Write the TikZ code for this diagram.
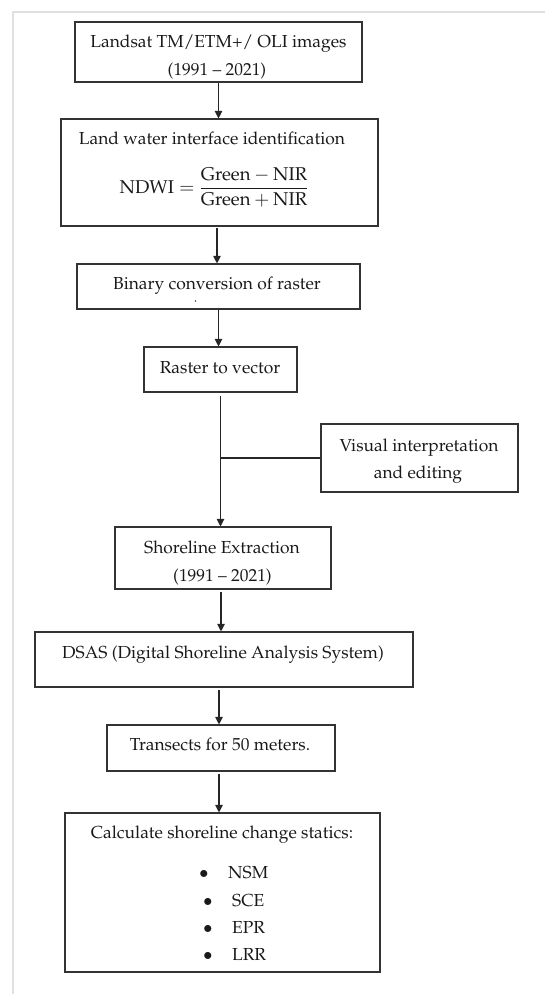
\documentclass[tikz,border=0pt]{standalone}
\usepackage[T1]{fontenc}
\usepackage{mathpazo}
\usepackage{amsmath}
\usetikzlibrary{arrows.meta}
\begin{document}
\begin{tikzpicture}[x=1pt,y=-1pt,
  box/.style={draw=black!80, line width=1.1pt, inner sep=0pt, rectangle},
  txt/.style={inner sep=0pt, anchor=base, text=black!90, font=\fontsize{17.4}{28}\selectfont},
  itm/.style={txt, anchor=base west},
  arr/.style={draw=black!85, line width=1.1pt, -{Triangle[width=7.5pt,length=7.5pt]}},
  conn/.style={draw=black!85, line width=1.1pt},
  frame/.style={draw=black!12, line width=1.5pt}]
\useasboundingbox (0,0) rectangle (545,994);
\draw[frame] (13,994) -- (13,12) -- (545,12);

% boxes
\node[box, minimum width=287pt, minimum height=60pt]  (b1) at (218.5,52) {};
\node[box, minimum width=317pt, minimum height=107pt] (b2) at (219.5,172.5) {};
\node[box, minimum width=283pt, minimum height=45pt]  (b3) at (218.5,286.5) {};
\node[box, minimum width=153pt, minimum height=45pt]  (b4) at (220.5,369.5) {};
\node[box, minimum width=197pt, minimum height=68pt]  (b5) at (419.5,458) {};
\node[box, minimum width=216pt, minimum height=62pt]  (b6) at (223,558) {};
\node[box, minimum width=378pt, minimum height=55pt]  (b7) at (224,659.5) {};
\node[box, minimum width=228pt, minimum height=46pt]  (b8) at (221,748) {};
\node[box, minimum width=315pt, minimum height=159pt] (b9) at (222.5,892.5) {};

% texts
\node[txt] (t1a) at (218.5,47.5) {Landsat TM/ETM+/ OLI images};
\node[txt] (t1b) at (217,75) {(1991 -- 2021)};
\node[txt] (t2a) at (212,144) {Land water interface identification};
\node[txt, font=\fontsize{18.5}{28}\selectfont] (t2b) at (214,193) {$\mathrm{NDWI} = \dfrac{\mathrm{Green}-\mathrm{NIR}\rule[-3pt]{0pt}{1pt}}{\mathrm{Green}+\mathrm{NIR}\rule{0pt}{15pt}}$};
\node[txt] (t3) at (217,289) {Binary conversion of raster};
\node[circle, fill=black!70, inner sep=0pt, minimum size=1.6pt] (d3) at (195.5,301) {};
\node[txt] (t4) at (220,373) {Raster to vector};
\node[txt] (t5a) at (419,451) {Visual interpretation};
\node[txt] (t5b) at (418,478) {and editing};
\node[txt] (t6a) at (222,553) {Shoreline Extraction};
\node[txt] (t6b) at (222.5,581) {(1991 -- 2021)};
\node[txt] (t7) at (223,658) {DSAS (Digital Shoreline Analysis System)};
\node[txt] (t8) at (220,750) {Transects for 50 meters.};
\node[txt] (t9) at (222,838) {Calculate shoreline change statics:};
\node[txt] (p1) at (204,878) {$\bullet$};
\node[txt] (p2) at (208,906) {$\bullet$};
\node[txt] (p3) at (208,933) {$\bullet$};
\node[txt] (p4) at (208,960) {$\bullet$};
\node[itm] (i1) at (228,878) {NSM};
\node[itm] (i2) at (232,906) {SCE};
\node[itm] (i3) at (232,933) {EPR};
\node[itm] (i4) at (232,960) {LRR};

% connectors
\draw[arr] (b1.south) -- (b1.south |- b2.north);
\draw[arr, shorten <=1pt] ([xshift=-2.5pt]b2.south) -- ([xshift=-2.5pt]b2.south |- b3.north);
\draw[arr] (b3.south) -- (b3.south |- b4.north);
\draw[arr, shorten <=3pt] (b4.south) -- (b4.south |- b6.north);
\draw[conn] (b5.west) -- (b5.west -| b4.south);
\draw[arr, shorten <=2pt] ([xshift=-2pt]b6.south) -- ([xshift=-2pt]b6.south |- b7.north);
\draw[arr, shorten <=2pt] ([xshift=-5pt]b7.south) -- ([xshift=-5pt]b7.south |- b8.north);
\draw[arr, shorten <=2pt] ([xshift=-2pt]b8.south) -- ([xshift=-2pt]b8.south |- b9.north);
\end{tikzpicture}
\end{document}
